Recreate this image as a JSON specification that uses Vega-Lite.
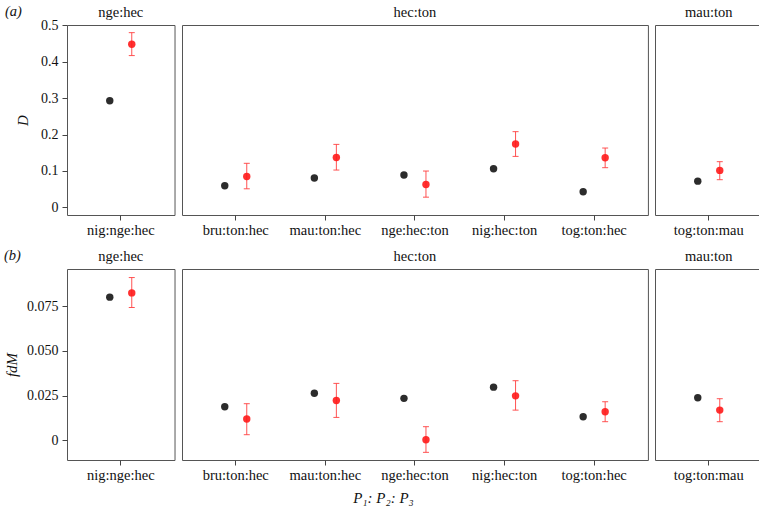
{
  "$schema": "https://vega.github.io/schema/vega-lite/v6.json",
  "background": "white",
  "padding": {"left": 4, "top": 3, "right": 0, "bottom": 4},
  "config": {
    "font": "Liberation Serif, Times New Roman, Times, DejaVu Serif, serif",
    "view": {"stroke": "#555", "strokeWidth": 1},
    "axis": {"grid": false, "domain": false, "tickColor": "#444", "tickSize": 5, "labelPadding": 4, "labelFontSize": 14, "labelColor": "#111", "labelFont": "Liberation Serif, Times New Roman, serif", "titleFont": "Liberation Serif, Times New Roman, serif", "titleFontWeight": "normal", "titleFontSize": 15, "titleColor": "#111"},
    "axisX": {"labelFontSize": 14.5, "labelPadding": 3},
    "title": {"font": "Liberation Serif, Times New Roman, serif", "fontWeight": "normal", "fontSize": 14.5, "color": "#111", "offset": 5},
    "concat": {"spacing": 5}
  },
  "title": {"text": "P₁: P₂: P₃", "orient": "bottom", "anchor": "middle", "fontStyle": "italic", "fontSize": 15, "offset": 9},
  "data": {"values": [
      {"panel": "a", "group": "nge:hec", "comb": "nig:nge:hec", "type": "obs", "value": 0.293, "lo": null, "hi": null},
      {"panel": "a", "group": "nge:hec", "comb": "nig:nge:hec", "type": "sim", "value": 0.448, "lo": 0.417, "hi": 0.480},
      {"panel": "a", "group": "hec:ton", "comb": "bru:ton:hec", "type": "obs", "value": 0.0595, "lo": null, "hi": null},
      {"panel": "a", "group": "hec:ton", "comb": "bru:ton:hec", "type": "sim", "value": 0.085, "lo": 0.051, "hi": 0.121},
      {"panel": "a", "group": "hec:ton", "comb": "mau:ton:hec", "type": "obs", "value": 0.0805, "lo": null, "hi": null},
      {"panel": "a", "group": "hec:ton", "comb": "mau:ton:hec", "type": "sim", "value": 0.137, "lo": 0.1025, "hi": 0.173},
      {"panel": "a", "group": "hec:ton", "comb": "nge:hec:ton", "type": "obs", "value": 0.0888, "lo": null, "hi": null},
      {"panel": "a", "group": "hec:ton", "comb": "nge:hec:ton", "type": "sim", "value": 0.063, "lo": 0.028, "hi": 0.0998},
      {"panel": "a", "group": "hec:ton", "comb": "nig:hec:ton", "type": "obs", "value": 0.106, "lo": null, "hi": null},
      {"panel": "a", "group": "hec:ton", "comb": "nig:hec:ton", "type": "sim", "value": 0.174, "lo": 0.140, "hi": 0.208},
      {"panel": "a", "group": "hec:ton", "comb": "tog:ton:hec", "type": "obs", "value": 0.043, "lo": null, "hi": null},
      {"panel": "a", "group": "hec:ton", "comb": "tog:ton:hec", "type": "sim", "value": 0.1365, "lo": 0.109, "hi": 0.163},
      {"panel": "a", "group": "mau:ton", "comb": "tog:ton:mau", "type": "obs", "value": 0.072, "lo": null, "hi": null},
      {"panel": "a", "group": "mau:ton", "comb": "tog:ton:mau", "type": "sim", "value": 0.1016, "lo": 0.076, "hi": 0.1255},
      {"panel": "b", "group": "nge:hec", "comb": "nig:nge:hec", "type": "obs", "value": 0.0802, "lo": null, "hi": null},
      {"panel": "b", "group": "nge:hec", "comb": "nig:nge:hec", "type": "sim", "value": 0.0826, "lo": 0.0744, "hi": 0.0912},
      {"panel": "b", "group": "hec:ton", "comb": "bru:ton:hec", "type": "obs", "value": 0.0187, "lo": null, "hi": null},
      {"panel": "b", "group": "hec:ton", "comb": "bru:ton:hec", "type": "sim", "value": 0.0118, "lo": 0.0030, "hi": 0.0204},
      {"panel": "b", "group": "hec:ton", "comb": "mau:ton:hec", "type": "obs", "value": 0.0263, "lo": null, "hi": null},
      {"panel": "b", "group": "hec:ton", "comb": "mau:ton:hec", "type": "sim", "value": 0.0222, "lo": 0.0127, "hi": 0.0318},
      {"panel": "b", "group": "hec:ton", "comb": "nge:hec:ton", "type": "obs", "value": 0.0234, "lo": null, "hi": null},
      {"panel": "b", "group": "hec:ton", "comb": "nge:hec:ton", "type": "sim", "value": 0.0002, "lo": -0.0069, "hi": 0.0075},
      {"panel": "b", "group": "hec:ton", "comb": "nig:hec:ton", "type": "obs", "value": 0.0297, "lo": null, "hi": null},
      {"panel": "b", "group": "hec:ton", "comb": "nig:hec:ton", "type": "sim", "value": 0.0248, "lo": 0.0168, "hi": 0.0333},
      {"panel": "b", "group": "hec:ton", "comb": "tog:ton:hec", "type": "obs", "value": 0.0131, "lo": null, "hi": null},
      {"panel": "b", "group": "hec:ton", "comb": "tog:ton:hec", "type": "sim", "value": 0.0159, "lo": 0.0103, "hi": 0.0215},
      {"panel": "b", "group": "mau:ton", "comb": "tog:ton:mau", "type": "obs", "value": 0.0237, "lo": null, "hi": null},
      {"panel": "b", "group": "mau:ton", "comb": "tog:ton:mau", "type": "sim", "value": 0.0168, "lo": 0.0103, "hi": 0.0232}
  ]},
  "spacing": 10,
  "vconcat": [
    {
      "title": {"text": "(a)", "anchor": "start", "frame": "bounds", "offset": -15, "dx": -10, "fontStyle": "italic"},
      "spacing": 5,
      "hconcat": [
        {
          "title": {"text": "nge:hec", "frame": "group", "offset": -2}, "width": 107.52, "height": 190,
          "transform": [{"filter": "datum.panel == 'a' && datum.group == 'nge:hec'"}],
          "encoding": {"x": {"field": "comb", "type": "nominal", "title": null, "scale": {"paddingInner": 0, "paddingOuter": 0.1}, "axis": {"labelAngle": 0}}},
          "layer": [
            {"mark": {"type": "rule", "color": "#333", "strokeWidth": 1}, "encoding": {"y": {"datum": 0, "type": "quantitative", "title": "D", "scale": {"domain": [-0.021, 0.501], "nice": false, "zero": false}, "axis": {"values": [0, 0.1, 0.2, 0.3, 0.4, 0.5], "labelExpr": "datum.value == 0 ? '0' : format(datum.value, '.1f')", "titleFontStyle": "italic", "titlePadding": 10}}}},
            {"transform": [{"filter": "datum.type == 'sim'"}], "mark": {"type": "rule", "color": "#ff4040", "strokeWidth": 1, "opacity": 0.9},
             "encoding": {"xOffset": {"field": "type", "scale": {"domain": ["obs", "sim"], "range": [22.8, 66.8]}}, "y": {"field": "lo", "type": "quantitative", "title": "D", "axis": {"values": [0, 0.1, 0.2, 0.3, 0.4, 0.5], "labelExpr": "datum.value == 0 ? '0' : format(datum.value, '.1f')", "titleFontStyle": "italic", "titlePadding": 10}}, "y2": {"field": "hi"}}},
            {"transform": [{"filter": "datum.type == 'sim'"}], "mark": {"type": "tick", "color": "#ff4040", "size": 6, "thickness": 1, "opacity": 0.9},
             "encoding": {"xOffset": {"field": "type"}, "y": {"field": "lo", "type": "quantitative", "title": "D", "axis": {"values": [0, 0.1, 0.2, 0.3, 0.4, 0.5], "labelExpr": "datum.value == 0 ? '0' : format(datum.value, '.1f')", "titleFontStyle": "italic", "titlePadding": 10}}}},
            {"transform": [{"filter": "datum.type == 'sim'"}], "mark": {"type": "tick", "color": "#ff4040", "size": 6, "thickness": 1, "opacity": 0.9},
             "encoding": {"xOffset": {"field": "type"}, "y": {"field": "hi", "type": "quantitative", "title": "D", "axis": {"values": [0, 0.1, 0.2, 0.3, 0.4, 0.5], "labelExpr": "datum.value == 0 ? '0' : format(datum.value, '.1f')", "titleFontStyle": "italic", "titlePadding": 10}}}},
            {"mark": {"type": "circle", "size": 55, "opacity": 0.9},
             "encoding": {"xOffset": {"field": "type"}, "y": {"field": "value", "type": "quantitative", "title": "D", "axis": {"values": [0, 0.1, 0.2, 0.3, 0.4, 0.5], "labelExpr": "datum.value == 0 ? '0' : format(datum.value, '.1f')", "titleFontStyle": "italic", "titlePadding": 10}},
               "color": {"field": "type", "scale": {"domain": ["obs", "sim"], "range": ["#151515", "#ff1a1a"]}, "legend": null}}}
          ]
        },
        {
          "title": {"text": "hec:ton", "frame": "group"}, "width": 465.92, "height": 190,
          "transform": [{"filter": "datum.panel == 'a' && datum.group == 'hec:ton'"}],
          "encoding": {"x": {"field": "comb", "type": "nominal", "title": null, "scale": {"paddingInner": 0, "paddingOuter": 0.1}, "axis": {"labelAngle": 0}}},
          "layer": [
            {"mark": {"type": "rule", "color": "#333", "strokeWidth": 1}, "encoding": {"y": {"datum": 0, "type": "quantitative", "scale": {"domain": [-0.021, 0.501], "nice": false, "zero": false}, "axis": null}}},
            {"transform": [{"filter": "datum.type == 'sim'"}], "mark": {"type": "rule", "color": "#ff4040", "strokeWidth": 1, "opacity": 0.9},
             "encoding": {"xOffset": {"field": "type", "scale": {"domain": ["obs", "sim"], "range": [22.8, 66.8]}}, "y": {"field": "lo", "type": "quantitative", "axis": null}, "y2": {"field": "hi"}}},
            {"transform": [{"filter": "datum.type == 'sim'"}], "mark": {"type": "tick", "color": "#ff4040", "size": 6, "thickness": 1, "opacity": 0.9},
             "encoding": {"xOffset": {"field": "type"}, "y": {"field": "lo", "type": "quantitative", "axis": null}}},
            {"transform": [{"filter": "datum.type == 'sim'"}], "mark": {"type": "tick", "color": "#ff4040", "size": 6, "thickness": 1, "opacity": 0.9},
             "encoding": {"xOffset": {"field": "type"}, "y": {"field": "hi", "type": "quantitative", "axis": null}}},
            {"mark": {"type": "circle", "size": 55, "opacity": 0.9},
             "encoding": {"xOffset": {"field": "type"}, "y": {"field": "value", "type": "quantitative", "axis": null},
               "color": {"field": "type", "scale": {"domain": ["obs", "sim"], "range": ["#151515", "#ff1a1a"]}, "legend": null}}}
          ]
        },
        {
          "title": {"text": "mau:ton", "frame": "group"}, "width": 107.52, "height": 190,
          "transform": [{"filter": "datum.panel == 'a' && datum.group == 'mau:ton'"}],
          "encoding": {"x": {"field": "comb", "type": "nominal", "title": null, "scale": {"paddingInner": 0, "paddingOuter": 0.1}, "axis": {"labelAngle": 0}}},
          "layer": [
            {"mark": {"type": "rule", "color": "#333", "strokeWidth": 1}, "encoding": {"y": {"datum": 0, "type": "quantitative", "scale": {"domain": [-0.021, 0.501], "nice": false, "zero": false}, "axis": null}}},
            {"transform": [{"filter": "datum.type == 'sim'"}], "mark": {"type": "rule", "color": "#ff4040", "strokeWidth": 1, "opacity": 0.9},
             "encoding": {"xOffset": {"field": "type", "scale": {"domain": ["obs", "sim"], "range": [22.8, 66.8]}}, "y": {"field": "lo", "type": "quantitative", "axis": null}, "y2": {"field": "hi"}}},
            {"transform": [{"filter": "datum.type == 'sim'"}], "mark": {"type": "tick", "color": "#ff4040", "size": 6, "thickness": 1, "opacity": 0.9},
             "encoding": {"xOffset": {"field": "type"}, "y": {"field": "lo", "type": "quantitative", "axis": null}}},
            {"transform": [{"filter": "datum.type == 'sim'"}], "mark": {"type": "tick", "color": "#ff4040", "size": 6, "thickness": 1, "opacity": 0.9},
             "encoding": {"xOffset": {"field": "type"}, "y": {"field": "hi", "type": "quantitative", "axis": null}}},
            {"mark": {"type": "circle", "size": 55, "opacity": 0.9},
             "encoding": {"xOffset": {"field": "type"}, "y": {"field": "value", "type": "quantitative", "axis": null},
               "color": {"field": "type", "scale": {"domain": ["obs", "sim"], "range": ["#151515", "#ff1a1a"]}, "legend": null}}}
          ]
        }
      ]
    },
    {
      "title": {"text": "(b)", "anchor": "start", "frame": "bounds", "offset": -15, "dx": 0, "fontStyle": "italic"},
      "spacing": 5,
      "hconcat": [
        {
          "title": {"text": "nge:hec", "frame": "group"}, "width": 107.52, "height": 191,
          "transform": [{"filter": "datum.panel == 'b' && datum.group == 'nge:hec'"}],
          "encoding": {"x": {"field": "comb", "type": "nominal", "title": null, "scale": {"paddingInner": 0, "paddingOuter": 0.1}, "axis": {"labelAngle": 0}}},
          "layer": [
            {"mark": {"type": "rule", "color": "#333", "strokeWidth": 1}, "encoding": {"y": {"datum": 0, "type": "quantitative", "title": "fdM", "scale": {"domain": [-0.0112, 0.096], "nice": false, "zero": false}, "axis": {"values": [0, 0.025, 0.05, 0.075], "labelExpr": "datum.value == 0 ? '0' : format(datum.value, '.3f')", "titleFontStyle": "italic", "titlePadding": 7}}}},
            {"transform": [{"filter": "datum.type == 'sim'"}], "mark": {"type": "rule", "color": "#ff4040", "strokeWidth": 1, "opacity": 0.9},
             "encoding": {"xOffset": {"field": "type", "scale": {"domain": ["obs", "sim"], "range": [22.8, 66.8]}}, "y": {"field": "lo", "type": "quantitative", "title": "fdM", "axis": {"values": [0, 0.025, 0.05, 0.075], "labelExpr": "datum.value == 0 ? '0' : format(datum.value, '.3f')", "titleFontStyle": "italic", "titlePadding": 7}}, "y2": {"field": "hi"}}},
            {"transform": [{"filter": "datum.type == 'sim'"}], "mark": {"type": "tick", "color": "#ff4040", "size": 6, "thickness": 1, "opacity": 0.9},
             "encoding": {"xOffset": {"field": "type"}, "y": {"field": "lo", "type": "quantitative", "title": "fdM", "axis": {"values": [0, 0.025, 0.05, 0.075], "labelExpr": "datum.value == 0 ? '0' : format(datum.value, '.3f')", "titleFontStyle": "italic", "titlePadding": 7}}}},
            {"transform": [{"filter": "datum.type == 'sim'"}], "mark": {"type": "tick", "color": "#ff4040", "size": 6, "thickness": 1, "opacity": 0.9},
             "encoding": {"xOffset": {"field": "type"}, "y": {"field": "hi", "type": "quantitative", "title": "fdM", "axis": {"values": [0, 0.025, 0.05, 0.075], "labelExpr": "datum.value == 0 ? '0' : format(datum.value, '.3f')", "titleFontStyle": "italic", "titlePadding": 7}}}},
            {"mark": {"type": "circle", "size": 55, "opacity": 0.9},
             "encoding": {"xOffset": {"field": "type"}, "y": {"field": "value", "type": "quantitative", "title": "fdM", "axis": {"values": [0, 0.025, 0.05, 0.075], "labelExpr": "datum.value == 0 ? '0' : format(datum.value, '.3f')", "titleFontStyle": "italic", "titlePadding": 7}},
               "color": {"field": "type", "scale": {"domain": ["obs", "sim"], "range": ["#151515", "#ff1a1a"]}, "legend": null}}}
          ]
        },
        {
          "title": {"text": "hec:ton", "frame": "group"}, "width": 465.92, "height": 191,
          "transform": [{"filter": "datum.panel == 'b' && datum.group == 'hec:ton'"}],
          "encoding": {"x": {"field": "comb", "type": "nominal", "title": null, "scale": {"paddingInner": 0, "paddingOuter": 0.1}, "axis": {"labelAngle": 0}}},
          "layer": [
            {"mark": {"type": "rule", "color": "#333", "strokeWidth": 1}, "encoding": {"y": {"datum": 0, "type": "quantitative", "scale": {"domain": [-0.0112, 0.096], "nice": false, "zero": false}, "axis": null}}},
            {"transform": [{"filter": "datum.type == 'sim'"}], "mark": {"type": "rule", "color": "#ff4040", "strokeWidth": 1, "opacity": 0.9},
             "encoding": {"xOffset": {"field": "type", "scale": {"domain": ["obs", "sim"], "range": [22.8, 66.8]}}, "y": {"field": "lo", "type": "quantitative", "axis": null}, "y2": {"field": "hi"}}},
            {"transform": [{"filter": "datum.type == 'sim'"}], "mark": {"type": "tick", "color": "#ff4040", "size": 6, "thickness": 1, "opacity": 0.9},
             "encoding": {"xOffset": {"field": "type"}, "y": {"field": "lo", "type": "quantitative", "axis": null}}},
            {"transform": [{"filter": "datum.type == 'sim'"}], "mark": {"type": "tick", "color": "#ff4040", "size": 6, "thickness": 1, "opacity": 0.9},
             "encoding": {"xOffset": {"field": "type"}, "y": {"field": "hi", "type": "quantitative", "axis": null}}},
            {"mark": {"type": "circle", "size": 55, "opacity": 0.9},
             "encoding": {"xOffset": {"field": "type"}, "y": {"field": "value", "type": "quantitative", "axis": null},
               "color": {"field": "type", "scale": {"domain": ["obs", "sim"], "range": ["#151515", "#ff1a1a"]}, "legend": null}}}
          ]
        },
        {
          "title": {"text": "mau:ton", "frame": "group"}, "width": 107.52, "height": 191,
          "transform": [{"filter": "datum.panel == 'b' && datum.group == 'mau:ton'"}],
          "encoding": {"x": {"field": "comb", "type": "nominal", "title": null, "scale": {"paddingInner": 0, "paddingOuter": 0.1}, "axis": {"labelAngle": 0}}},
          "layer": [
            {"mark": {"type": "rule", "color": "#333", "strokeWidth": 1}, "encoding": {"y": {"datum": 0, "type": "quantitative", "scale": {"domain": [-0.0112, 0.096], "nice": false, "zero": false}, "axis": null}}},
            {"transform": [{"filter": "datum.type == 'sim'"}], "mark": {"type": "rule", "color": "#ff4040", "strokeWidth": 1, "opacity": 0.9},
             "encoding": {"xOffset": {"field": "type", "scale": {"domain": ["obs", "sim"], "range": [22.8, 66.8]}}, "y": {"field": "lo", "type": "quantitative", "axis": null}, "y2": {"field": "hi"}}},
            {"transform": [{"filter": "datum.type == 'sim'"}], "mark": {"type": "tick", "color": "#ff4040", "size": 6, "thickness": 1, "opacity": 0.9},
             "encoding": {"xOffset": {"field": "type"}, "y": {"field": "lo", "type": "quantitative", "axis": null}}},
            {"transform": [{"filter": "datum.type == 'sim'"}], "mark": {"type": "tick", "color": "#ff4040", "size": 6, "thickness": 1, "opacity": 0.9},
             "encoding": {"xOffset": {"field": "type"}, "y": {"field": "hi", "type": "quantitative", "axis": null}}},
            {"mark": {"type": "circle", "size": 55, "opacity": 0.9},
             "encoding": {"xOffset": {"field": "type"}, "y": {"field": "value", "type": "quantitative", "axis": null},
               "color": {"field": "type", "scale": {"domain": ["obs", "sim"], "range": ["#151515", "#ff1a1a"]}, "legend": null}}}
          ]
        }
      ]
    }
  ]
}
